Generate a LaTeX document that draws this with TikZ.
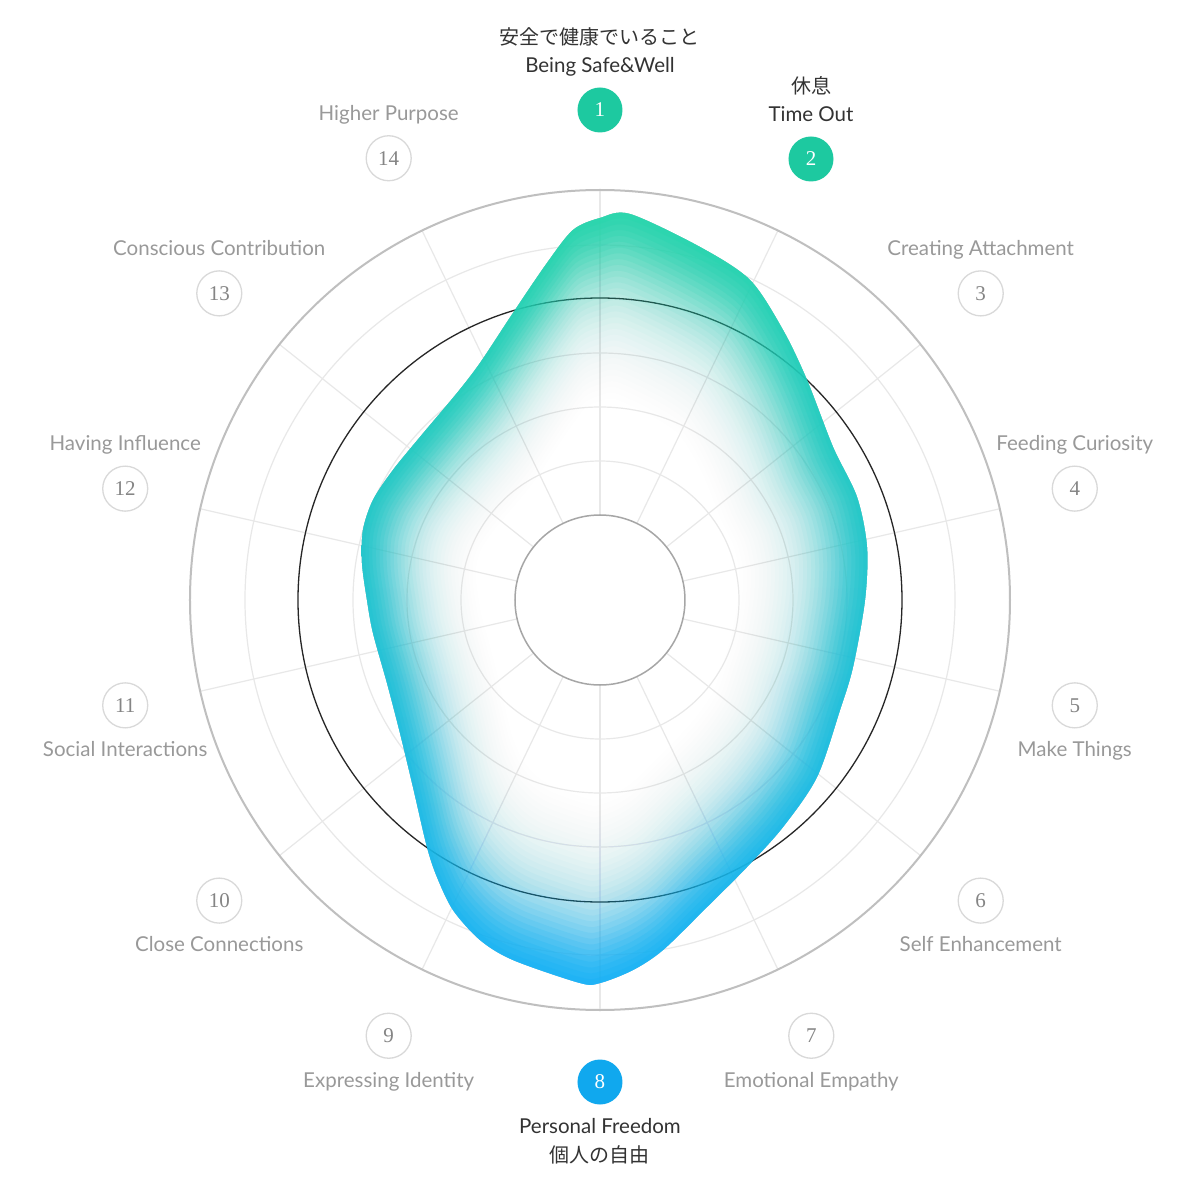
\documentclass[tikz,border=0pt]{standalone}
\usepackage{fontspec}
\setmainfont{Lato}
\newfontfamily\jpfont{Noto Sans CJK JP}
\newfontfamily\numfont{Liberation Serif}
\usetikzlibrary{positioning}

\definecolor{tealdot}{HTML}{1DC9A0}
\definecolor{bluedot}{HTML}{10A8EE}
\definecolor{blobtop}{HTML}{24D6AB}
\definecolor{blobmid}{HTML}{26CAD6}
\definecolor{blobbot}{HTML}{16B2F6}
\definecolor{softgray}{HTML}{999999}
\definecolor{inkgray}{HTML}{333333}

\tikzset{
  gridline/.style={draw=black!9, line width=1.2pt},
  rimline/.style={draw=black!25, line width=2pt},
  hubline/.style={draw=black!35, line width=1.5pt},
  markline/.style={draw=black!85, line width=1.3pt},
  blobshade/.style={top color=blobtop, middle color=blobmid, bottom color=blobbot},
  numdot/.style={circle, minimum size=45pt, inner sep=0pt, draw=black!15, line width=1.3pt,
    fill=white, text=black!48, font=\numfont\fontsize{21}{21}\selectfont},
  hotdot/.style={numdot, draw=none, text=white},
  tag/.style={inner sep=0pt, text height=15pt, text depth=4.5pt, text=softgray,
    font=\fontsize{20.5}{20.5}\selectfont},
  hottag/.style={tag, text=inkgray},
  jptag/.style={inner sep=0pt, text height=16pt, text depth=3pt, text=inkgray,
    font=\jpfont\fontsize{20}{20}\selectfont}
}

% outline of the shape, centre of the chart at (0,0)
\newcommand{\blob}{plot[smooth cycle] coordinates {(0,382) (30,386) (100,353) (150,320)
  (183,270) (207,220) (233,153) (257,103) (267,53) (265,0) (253,-67) (240,-110)
  (217,-177) (183,-227) (147,-267) (107,-307) (63,-350) (33,-370) (0,-383) (-20,-383)
  (-87,-360) (-120,-340) (-147,-310) (-163,-277) (-173,-247) (-187,-187) (-200,-133)
  (-213,-83) (-227,-33) (-233,0) (-238,37) (-237,70) (-227,100) (-207,130) (-180,163)
  (-143,207) (-120,237) (-87,287) (-53,337) (-27,370)}}

\begin{document}
\begin{tikzpicture}[x=1pt, y=1pt]
  \useasboundingbox (-600,-600) rectangle (600,600);
  \fill[white] (-600,-600) rectangle (600,600);

  % grid
  \foreach \r in {139,193,247,355}
    \draw[gridline] (0,0) circle (\r pt);
  \foreach \k in {1,...,14}
    \draw[gridline] ({90-(\k-1)*360/14}:85) -- ({90-(\k-1)*360/14}:410);
  \draw[rimline] (0,0) circle (410pt);
  \draw[markline] (0,0) circle (302pt);

  % shape, stacked rings fading towards the middle
  \foreach \s in {0.52,0.535,...,0.99}{
    \pgfmathsetmacro\a{1-exp(-0.024*exp(10*(\s-0.7)))}
    \begin{scope}[scale=\s, even odd rule]
      \clip (-2000,-2000) rectangle (2000,2000) \blob;
      \shade[blobshade, scale=1/\s, fill opacity=\a] \blob;
    \end{scope}
  }
  \draw[hubline, fill=white] (0,0) circle (85pt);

  % numbers
  \foreach \k in {3,4,5,6,7,9,10,11,12,13,14}
    \node[numdot] (n\k) at ({487*cos(90-(\k-1)*360/14)}, {3+487*sin(90-(\k-1)*360/14)}) {\k};
  \node[hotdot, fill=tealdot] (n1) at (0,490) {1};
  \node[hotdot, fill=tealdot] (n2) at (211,441) {2};
  \node[hotdot, fill=bluedot] (n8) at (0,-482) {8};

  % labels
  \node[hottag, above=10pt of n1] (t1) {Being Safe\&Well};
  \node[jptag, above=9pt of t1] (j1) {安全で健康でいること};
  \node[hottag, above=10pt of n2] (t2) {Time Out};
  \node[jptag, above=9pt of t2] (j2) {休息};
  \node[tag, above=10pt of n3] (t3) {Creating Attachment};
  \node[tag, above=10pt of n4] (t4) {Feeding Curiosity};
  \node[tag, below=13pt of n5] (t5) {Make Things};
  \node[tag, below=13pt of n6] (t6) {Self Enhancement};
  \node[tag, below=13pt of n7] (t7) {Emotional Empathy};
  \node[hottag, below=13pt of n8] (t8) {Personal Freedom};
  \node[jptag, below=8pt of t8] (j8) {個人の自由};
  \node[tag, below=13pt of n9] (t9) {Expressing Identity};
  \node[tag, below=13pt of n10] (t10) {Close Connections};
  \node[tag, below=13pt of n11] (t11) {Social Interactions};
  \node[tag, above=10pt of n12] (t12) {Having Influence};
  \node[tag, above=10pt of n13] (t13) {Conscious Contribution};
  \node[tag, above=10pt of n14] (t14) {Higher Purpose};
\end{tikzpicture}
\end{document}
